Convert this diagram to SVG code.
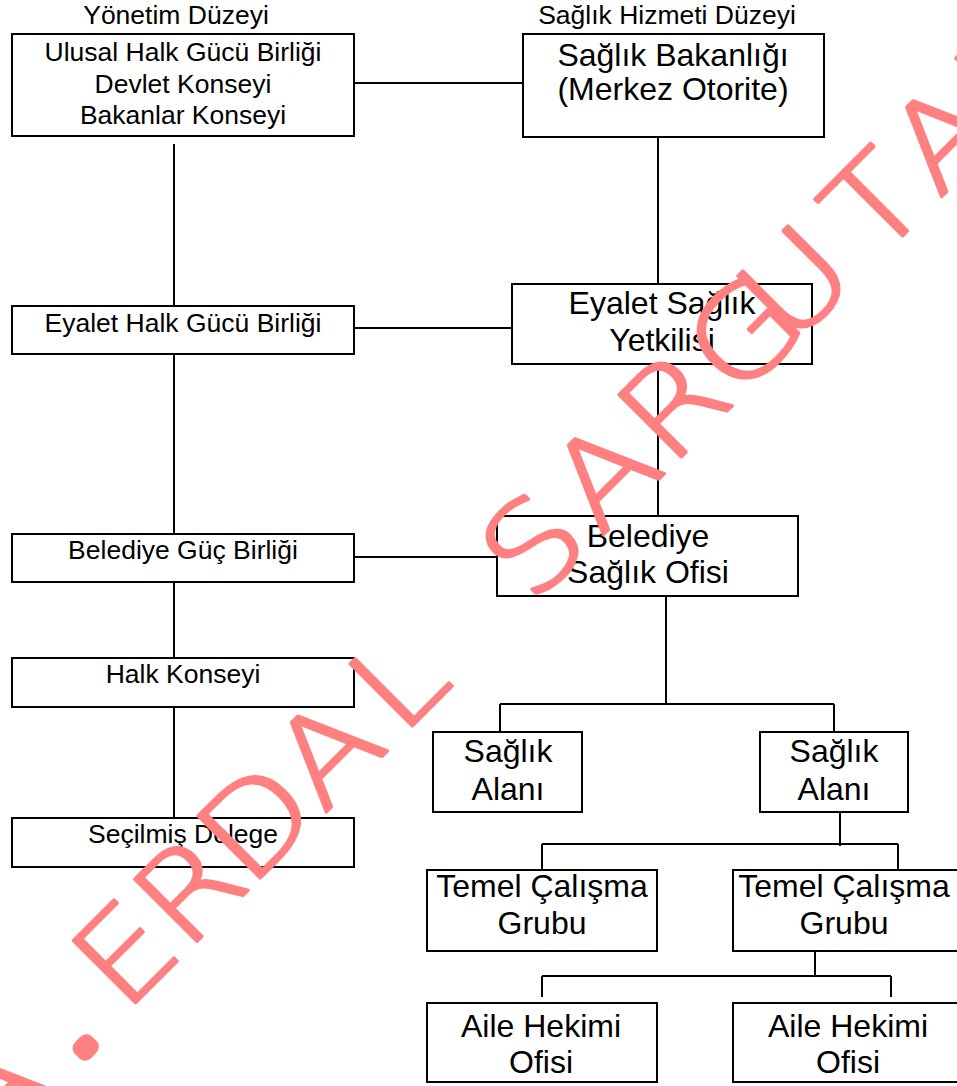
<svg xmlns="http://www.w3.org/2000/svg" width="957" height="1086" viewBox="0 0 957 1086">
<style>
.box{fill:#fff;stroke:#000;stroke-width:2}
.conn path{stroke:#000;stroke-width:2;fill:none}
.s{font-family:"Liberation Sans",Arial,sans-serif;font-size:26.5px;text-anchor:middle;fill:#000}
.b{font-family:"Liberation Sans",Arial,sans-serif;font-size:32px;text-anchor:middle;fill:#000}
.wm{font-family:"DejaVu Sans",sans-serif;font-weight:200;font-size:121px;text-anchor:middle;fill:#ff8080;stroke:#ff8080;stroke-width:3;stroke-linejoin:round;stroke-linecap:round}
.dot{stroke-width:15}
</style>
<rect width="957" height="1086" fill="#fff"/>
<g id="titles">
<text class="s" x="176" y="24">Yönetim Düzeyi</text>
<text class="s" x="667" y="24">Sağlık Hizmeti Düzeyi</text>
</g>
<g class="conn" id="connectors">
<path d="M354 83H523"/>
<path d="M174 144V306M174 354V534M174 582V658M174 707V818"/>
<path d="M658 137V284M354 328H512M658 364V516M354 557H497"/>
<path d="M666 596V704M500 704H834M500 704V732M834 704V732"/>
<path d="M840 812V846M542 844H898M542 844V875M898 844V875"/>
<path d="M815 951V976M542 976H891M542 976V997M891 976V997"/>
</g>
<g id="n_ulusal"><rect class="box" x="12" y="34" width="342" height="102"/>
<text class="s" x="183" y="61">Ulusal Halk Gücü Birliği</text>
<text class="s" x="183" y="93">Devlet Konseyi</text>
<text class="s" x="183" y="124">Bakanlar Konseyi</text></g>
<g id="n_eyalet_halk"><rect class="box" x="12" y="306" width="342" height="48"/>
<text class="s" x="183" y="332">Eyalet Halk Gücü Birliği</text></g>
<g id="n_belediye_guc"><rect class="box" x="12" y="534" width="342" height="48"/>
<text class="s" x="183" y="559">Belediye Güç Birliği</text></g>
<g id="n_halk"><rect class="box" x="12" y="658" width="342" height="49"/>
<text class="s" x="183" y="683">Halk Konseyi</text></g>
<g id="n_secilmis"><rect class="box" x="12" y="818" width="342" height="49"/>
<text class="s" x="183" y="843">Seçilmiş Delege</text></g>
<g id="n_bakanlik"><rect class="box" x="523" y="34" width="301" height="103"/>
<text class="b" x="673" y="66">Sağlık Bakanlığı</text>
<text class="b" x="673" y="100">(Merkez Otorite)</text></g>
<g id="n_eyalet_saglik"><rect class="box" x="512" y="284" width="300" height="80"/>
<text class="b" x="662" y="314">Eyalet Sağlık</text>
<text class="b" x="662" y="351">Yetkilisi</text></g>
<g id="n_belediye_saglik"><rect class="box" x="497" y="516" width="301" height="80"/>
<text class="b" x="648" y="547">Belediye</text>
<text class="b" x="648" y="583">Sağlık Ofisi</text></g>
<g id="n_alan1"><rect class="box" x="433" y="732" width="149" height="80"/>
<text class="b" x="508" y="762">Sağlık</text>
<text class="b" x="508" y="800">Alanı</text></g>
<g id="n_alan2"><rect class="box" x="760" y="732" width="148" height="80"/>
<text class="b" x="834" y="762">Sağlık</text>
<text class="b" x="834" y="800">Alanı</text></g>
<g id="n_temel1"><rect class="box" x="427" y="870" width="230" height="81"/>
<text class="b" x="542" y="897">Temel Çalışma</text>
<text class="b" x="542" y="934">Grubu</text></g>
<g id="n_temel2"><rect class="box" x="733" y="870" width="230" height="81"/>
<text class="b" x="844" y="897">Temel Çalışma</text>
<text class="b" x="844" y="934">Grubu</text></g>
<g id="n_aile1"><rect class="box" x="427" y="1003" width="230" height="79"/>
<text class="b" x="541" y="1037">Aile Hekimi</text>
<text class="b" x="541" y="1073">Ofisi</text></g>
<g id="n_aile2"><rect class="box" x="733" y="1003" width="230" height="79"/>
<text class="b" x="848" y="1037">Aile Hekimi</text>
<text class="b" x="848" y="1073">Ofisi</text></g>
<g id="watermark">
<text class="wm" transform="rotate(-45) scale(1.15 1)" y="805" x="-676.5 -591.3 -550.4 -509.6 -430.4 -347.8 -260.9 -173.9 -91.3 -7.8 80 165.2 252.2 314.8 413 495.7 582.6">A<tspan class="dot">.</tspan> ERDAL SARGUTAN</text>
</g>
</svg>
